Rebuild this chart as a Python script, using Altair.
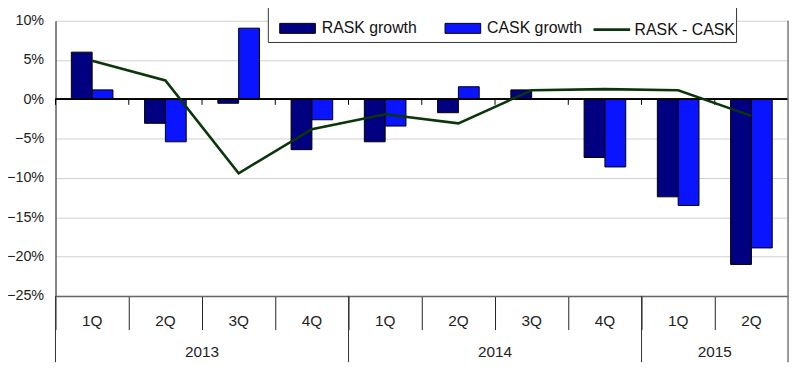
import altair as alt
import pandas as pd

quarters = ["1Q", "2Q", "3Q", "4Q", "1Q", "2Q", "3Q", "4Q", "1Q", "2Q"]
years = ["2013", "2013", "2013", "2013", "2014", "2014", "2014", "2014", "2015", "2015"]
rask_growth = [6.0, -3.05, -0.5, -6.4, -5.4, -1.7, 1.2, -7.4, -12.4, -21.0]
cask_growth = [1.2, -5.4, 9.05, -2.6, -3.4, 1.6, 0.1, -8.6, -13.5, -18.9]
rask_minus_cask = [4.9, 2.4, -9.4, -3.8, -1.9, -3.05, 1.15, 1.3, 1.15, -2.1]
y_ticks = [-25, -20, -15, -10, -5, 0, 5, 10]

cats = [f"{y} {q}" for y, q in zip(years, quarters)]
W, H = 740, 278
FONT = "Liberation Sans"

bars = pd.DataFrame({
    "cat": cats * 2,
    "series": ["RASK growth"] * len(cats) + ["CASK growth"] * len(cats),
    "value": rask_growth + cask_growth,
})
line_df = pd.DataFrame({"cat": cats, "lseries": "RASK - CASK", "value": rask_minus_cask})
cat_df = pd.DataFrame({"cat": cats, "year": years})

# year label positions: middle of each year's span
year_rows = []
for yr in ["2013", "2014", "2015"]:
    idx = [i for i, y in enumerate(years) if y == yr]
    n = len(idx)
    year_rows.append({"year": yr, "first": cats[idx[0]], "mid": cats[idx[0] + n // 2]})
year_df = pd.DataFrame(year_rows)

xscale = alt.Scale(domain=cats, paddingInner=0, paddingOuter=0)
yscale = alt.Scale(domain=[-25, 10], nice=False, zero=False)

x_axis = alt.Axis(title=None, labelExpr="split(datum.label, ' ')[1]", bandPosition=0)
y_axis = alt.Axis(title=None, values=y_ticks, tickCount=8, format="d",
                  labelExpr="datum.label + '%'", labelOverlap=False, labelSeparation=0)

bar_layer = alt.Chart(bars).mark_bar(stroke="black", strokeWidth=1).encode(
    x=alt.X("cat:N", scale=xscale, axis=x_axis, sort=cats),
    xOffset=alt.XOffset("series:N", sort=["RASK growth", "CASK growth"],
                        scale=alt.Scale(paddingInner=0, paddingOuter=0.76)),
    y=alt.Y("value:Q", scale=yscale, axis=y_axis),
    fill=alt.Fill("series:N", sort=["RASK growth", "CASK growth"],
                  scale=alt.Scale(domain=["RASK growth", "CASK growth"], range=["#000080", "#0a14ff"]),
                  legend=alt.Legend(
                      title=None, orient="none", direction="horizontal", legendX=226, legendY=-11,
                      symbolType="M-1,-0.28H1V0.28H-1Z", symbolSize=1296, symbolStrokeColor="black",
                      symbolStrokeWidth=1, labelFontSize=16, labelFont=FONT, labelColor="#111",
                      labelOffset=6, columnPadding=25, padding=0,
                  )),
)

zero_line = alt.Chart(cat_df).mark_rule(color="black", strokeWidth=1.2).encode(
    x=alt.value(0), x2=alt.value(W), y=alt.Y(datum=0)
)

zero_ticks = alt.Chart(cat_df).mark_rule(color="black", strokeWidth=1).encode(
    x=alt.X("cat:N", sort=cats, bandPosition=0),
    y=alt.Y(datum=0), y2=alt.Y2(datum=-0.7),
)

line_layer = alt.Chart(line_df).mark_line(strokeWidth=2.6).encode(
    x=alt.X("cat:N", sort=cats),
    y=alt.Y("value:Q"),
    stroke=alt.Stroke("lseries:N", scale=alt.Scale(domain=["RASK - CASK"], range=["#0b360b"]),
                      legend=alt.Legend(
                          title=None, orient="none", direction="horizontal", legendX=542, legendY=-11,
                          symbolType="stroke", symbolSize=1369, symbolStrokeWidth=2.6,
                          labelFontSize=16, labelFont=FONT, labelColor="#111", labelOffset=3, padding=0,
                      )),
)

legend_box = alt.Chart(cat_df.head(1)).mark_rect(fill="white", stroke="#333", strokeWidth=1).encode(
    x=alt.value(215), x2=alt.value(688), y=alt.value(-14), y2=alt.value(22)
)

year_seps = alt.Chart(year_df).mark_rule(color="#333", strokeWidth=1).encode(
    x=alt.X("first:N", sort=cats, bandPosition=0),
    y=alt.value(H), y2=alt.value(H + 67),
)
right_border = alt.Chart(year_df.tail(1)).mark_rule(color="#777", strokeWidth=1.5).encode(
    x=alt.X("mid:N", sort=cats, bandPosition=1),
    y=alt.value(0), y2=alt.value(H + 67),
)
year_labels = alt.Chart(year_df).mark_text(fontSize=15.5, font=FONT, color="#222", baseline="middle").encode(
    x=alt.X("mid:N", sort=cats, bandPosition=0),
    y=alt.value(H + 57),
    text="year:N",
)

chart = alt.layer(
    bar_layer, zero_line, zero_ticks, line_layer, legend_box, year_seps, right_border, year_labels
).resolve_scale(x="shared").properties(
    width=W, height=H,
    autosize=alt.AutoSizeParams(type="none"),
    padding={"left": 48, "top": 11, "right": 4, "bottom": 70},
).configure_view(stroke=None).configure_legend(labelLimit=300).configure_axisX(
    tickSize=34, tickColor="#222", tickWidth=1, labelPadding=-16, labelBaseline="top",
    labelFontSize=15.5, labelFont=FONT, labelColor="#222", domainColor="#666", domainWidth=1.5,
    grid=False, labelAngle=0, labelOverlap=False, title=None,
).configure_axisY(
    grid=True, gridColor="#cfcfcf", gridWidth=1, ticks=False, labelPadding=12,
    labelFontSize=14.5, labelFont=FONT, labelColor="#222", domainColor="#333", domainWidth=1.2,
    labelOverlap=False, title=None,
)

chart.save("out.html", embed_options={"renderer": "svg", "actions": False})
